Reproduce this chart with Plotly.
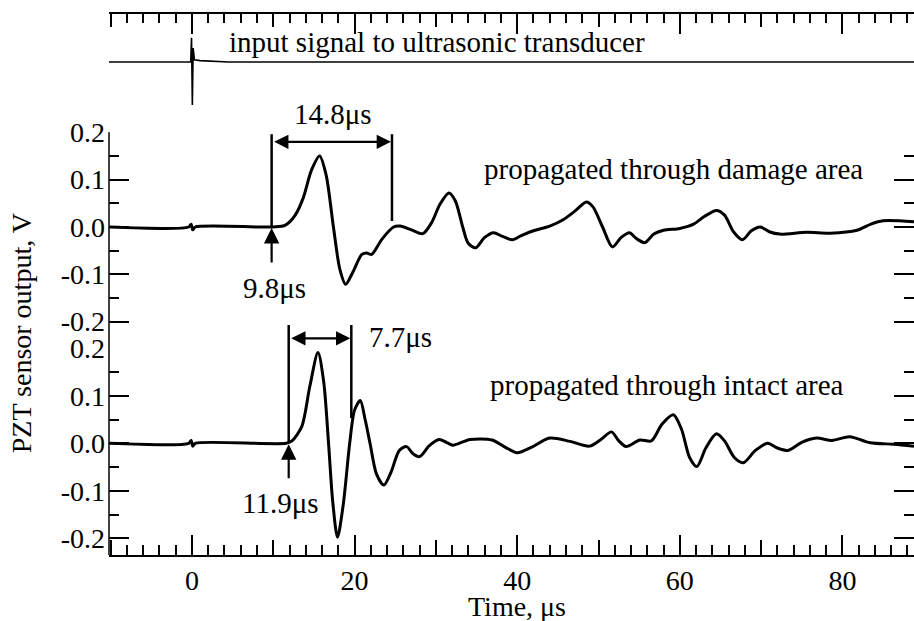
import plotly.graph_objects as go

# ---------------- data ----------------
# input signal to transducer (arbitrary units)
input_t = [-10.2, -0.15, -0.05, 0.05, 0.15, 0.3, 1.0, 2.5, 4.5, 88.8]
input_v = [0.0, 0.0, 0.52, -0.92, 0.3, 0.05, 0.03, 0.015, 0.0, 0.0]

# propagated through damage area (V)
damage_t = [-10.2, -0.4, -0.1, 0.1, 0.4, 10.0, 11.5, 12.7, 13.7, 14.7, 15.7, 16.5, 17.4,
            18.2, 18.9, 19.8, 20.9, 21.5, 22.1, 23.4, 24.8, 25.6, 27.0, 28.4, 29.5, 30.5,
            31.6, 32.4, 33.3, 34.0, 34.9, 36.0, 37.1, 38.2, 39.4, 40.5, 42.0, 44.0, 45.7,
            47.2, 48.5, 49.3, 50.5, 51.7, 52.8, 53.8, 54.7, 55.7, 56.8, 58.0, 60.0, 61.7,
            63.0, 64.5, 65.5, 66.6, 67.7, 68.8, 69.9, 71.0, 72.3, 75.6, 78.5, 81.8, 83.5,
            85.0, 88.8]
damage_v = [0.0, 0.0, 0.006, -0.006, 0.0, 0.0, 0.004, 0.025, 0.062, 0.120, 0.150, 0.110, 0.0,
            -0.090, -0.121, -0.095, -0.058, -0.055, -0.058, -0.025, 0.0, 0.002, -0.006, -0.014,
            0.010, 0.048, 0.072, 0.055, 0.0, -0.035, -0.044, -0.022, -0.012, -0.020, -0.027,
            -0.018, -0.008, 0.002, 0.016, 0.035, 0.053, 0.043, 0.0, -0.042, -0.022, -0.012,
            -0.025, -0.033, -0.015, -0.007, -0.003, 0.006, 0.022, 0.035, 0.025, -0.010, -0.027,
            -0.008, 0.0, -0.010, -0.015, -0.011, -0.013, -0.007, 0.006, 0.013, 0.011]

# propagated through intact area (V)
intact_t = [-10.2, -0.4, -0.1, 0.1, 0.4, 11.6, 12.3, 13.5, 14.5, 15.5, 16.2, 16.8, 17.3, 17.9,
            18.6, 19.4, 20.0, 20.7, 21.3, 21.9, 22.7, 23.6, 24.5, 25.5, 26.4, 27.2, 28.0, 29.2,
            30.4, 31.3, 32.1, 34.2, 36.9, 38.5, 40.0, 41.8, 44.0, 46.5, 48.9, 50.3, 51.6, 52.5,
            53.4, 55.1, 56.5, 57.8, 59.2, 60.2, 61.2, 62.1, 63.2, 64.5, 65.5, 66.7, 67.8, 69.3,
            70.8, 72.0, 73.3, 75.0, 76.8, 78.7, 80.9, 83.4, 86.3, 88.8]
intact_v = [0.0, 0.0, 0.006, -0.006, 0.0, 0.0, 0.005, 0.035, 0.120, 0.191, 0.130, 0.0, -0.120,
            -0.198, -0.130, 0.0, 0.070, 0.090, 0.050, 0.0, -0.065, -0.088, -0.060, -0.015,
            -0.007, -0.022, -0.028, -0.005, 0.008, 0.002, -0.004, 0.008, 0.007, -0.008, -0.020,
            -0.008, 0.011, 0.004, -0.006, 0.008, 0.024, 0.005, -0.007, 0.007, 0.005, 0.040,
            0.060, 0.030, -0.030, -0.049, -0.010, 0.020, 0.005, -0.030, -0.041, -0.015, 0.0,
            -0.010, -0.015, 0.002, 0.011, 0.006, 0.014, 0.001, -0.002, -0.006]

# arrival times and durations (µs)
damage_onset, damage_width = 9.8, 14.8
intact_onset, intact_width = 11.9, 7.7

y_tickvals = [-0.2, -0.1, 0.0, 0.1, 0.2]
y_ticktext = ["-0.2", "-0.1", "0.0", "0.1", "0.2"]
y_minorvals = [-0.15, -0.05, 0.05, 0.15]

x_range = [-10.2, 88.8]

# panel layout (domains / ranges)
dom_y, rng_y = [0.0, 0.3821], [-0.2352, 0.2]
dom_y2, rng_y2 = [0.3821, 0.7813], [-0.2562, 0.2]
dom_y3, rng_y3 = [0.8078, 1.0], [-1.2, 1.03]


def to_paper(v, dom, rng):
    return dom[0] + (v - rng[0]) / (rng[1] - rng[0]) * (dom[1] - dom[0])


FONT = "Liberation Serif, Times New Roman, serif"
FS_TICK = 28
FS_TEXT = 29

fig = go.Figure()
fig.add_trace(go.Scatter(x=input_t, y=input_v, xaxis="x", yaxis="y3", mode="lines",
                         line=dict(color="black", width=1.6), hoverinfo="skip"))
fig.add_trace(go.Scatter(x=damage_t, y=damage_v, xaxis="x", yaxis="y2", mode="lines",
                         line=dict(color="black", width=3, shape="spline", smoothing=0.8),
                         hoverinfo="skip"))
fig.add_trace(go.Scatter(x=intact_t, y=intact_v, xaxis="x", yaxis="y", mode="lines",
                         line=dict(color="black", width=3, shape="spline", smoothing=0.8),
                         hoverinfo="skip"))
# invisible anchors for the auxiliary tick axes
for xa, ya in (("x2", "y3"), ("x3", "y"), ("x4", "y3")):
    fig.add_trace(go.Scatter(x=[x_range[0]], y=[0], xaxis=xa, yaxis=ya, mode="markers",
                             marker=dict(opacity=0), hoverinfo="skip", showlegend=False))

yax_common = dict(showline=False, ticks="inside",
                  ticklen=20, tickwidth=1.5, tickcolor="black", mirror="ticks",
                  tickmode="array", tickvals=y_tickvals, ticktext=y_ticktext,
                  minor=dict(tickmode="array", tickvals=y_minorvals, ticks="inside",
                             ticklen=10, tickwidth=1.5, tickcolor="black"),
                  showgrid=False, zeroline=False, ticklabelstandoff=3,
                  tickfont=dict(family=FONT, size=FS_TICK, color="black"))

fig.update_layout(
    width=914, height=621,
    margin=dict(l=109, r=0, t=14, b=66),
    paper_bgcolor="white", plot_bgcolor="white",
    showlegend=False,
    font=dict(family=FONT, size=FS_TICK, color="black"),
    xaxis=dict(range=x_range, anchor="y", showline=True, linecolor="black", linewidth=1.5,
               ticks="inside", ticklen=20, tickwidth=1.5, tickcolor="black",
               tickmode="linear", tick0=0, dtick=20,
               minor=dict(ticks="inside", ticklen=10, tickwidth=1.5, tickcolor="black",
                          tick0=0, dtick=2),
               showgrid=False, zeroline=False, ticklabelstandoff=0,
               tickfont=dict(family=FONT, size=FS_TICK, color="black")),
    xaxis2=dict(range=x_range, anchor="y3", overlaying="x", side="top", showline=True,
                linecolor="black", linewidth=1.5, ticks="inside", ticklen=20, tickwidth=1.5,
                tickcolor="black", tickmode="linear", tick0=0, dtick=20,
                minor=dict(ticks="inside", ticklen=9, tickwidth=1.5, tickcolor="black",
                           tick0=0, dtick=2),
                showticklabels=False, showgrid=False, zeroline=False),
    xaxis3=dict(range=x_range, anchor="y", overlaying="x", side="bottom", showline=False,
                ticks="inside", ticklen=15, tickwidth=1.5, tickcolor="black",
                tickmode="linear", tick0=0, dtick=10, showticklabels=False,
                showgrid=False, zeroline=False),
    xaxis4=dict(range=x_range, anchor="y3", overlaying="x", side="top", showline=False,
                ticks="inside", ticklen=13, tickwidth=1.5, tickcolor="black",
                tickmode="linear", tick0=0, dtick=10, showticklabels=False,
                showgrid=False, zeroline=False),
    yaxis=dict(domain=dom_y, range=rng_y, anchor="x", **yax_common),
    yaxis2=dict(domain=dom_y2, range=rng_y2, anchor="x", **yax_common),
    yaxis3=dict(domain=dom_y3, range=rng_y3, anchor="x", visible=False),
)

# continuous left axis line spanning both sensor panels
fig.add_shape(type="line", xref="paper", yref="paper", x0=0, x1=0,
              y0=to_paper(rng_y[0], dom_y, rng_y), y1=to_paper(rng_y2[1], dom_y2, rng_y2),
              line=dict(color="black", width=1.5))

line_style = dict(color="black", width=2.5)
# brackets: damage (in y2 data units)
for xv, y0 in ((damage_onset, 0.0), (damage_onset + damage_width, 0.0127)):
    fig.add_shape(type="line", xref="x", yref="paper", x0=xv, x1=xv,
                  y0=to_paper(y0, dom_y2, rng_y2), y1=to_paper(0.196, dom_y2, rng_y2),
                  line=line_style)
# brackets: intact (in y data units)
for xv, y0 in ((intact_onset, 0.0), (intact_onset + intact_width, 0.053)):
    fig.add_shape(type="line", xref="x", yref="paper", x0=xv, x1=xv,
                  y0=to_paper(y0, dom_y, rng_y), y1=to_paper(0.249, dom_y, rng_y),
                  line=line_style)


def dbl_arrow(x0, x1, yp):
    fig.add_annotation(x=x1, y=yp, ax=x0, ay=0, xref="x", yref="paper", axref="x",
                       ayref="pixel", text="", showarrow=True, arrowhead=2,
                       startarrowhead=2, arrowside="end+start", arrowsize=1.3,
                       arrowwidth=2.2, arrowcolor="black", standoff=1, startstandoff=1)


def up_arrow(xv, y_tail, dom, rng):
    fig.add_annotation(x=xv, y=to_paper(0.0, dom, rng), ax=0,
                       ay=(0.0 - y_tail) / (rng[1] - rng[0]) * (dom[1] - dom[0]) * 541,
                       xref="x", yref="paper", axref="pixel", ayref="pixel",
                       text="", showarrow=True, arrowhead=2, arrowsize=1.4,
                       arrowwidth=2.2, arrowcolor="black", standoff=1)


dbl_arrow(damage_onset, damage_onset + damage_width, to_paper(0.18, dom_y2, rng_y2))
dbl_arrow(intact_onset, intact_onset + intact_width, to_paper(0.221, dom_y, rng_y))
up_arrow(damage_onset, -0.078, dom_y2, rng_y2)
up_arrow(intact_onset, -0.077, dom_y, rng_y)


def label(text, x, yp, xref="x", angle=0, size=FS_TEXT):
    fig.add_annotation(x=x, y=yp, xref=xref, yref="paper", text=text, showarrow=False,
                       textangle=angle, xanchor="center", yanchor="middle",
                       font=dict(family=FONT, size=size, color="black"))


label(f"{damage_width}μs", 17.3, to_paper(0.239, dom_y2, rng_y2))
label(f"{damage_onset}μs", 10.1, to_paper(-0.128, dom_y2, rng_y2))
label("propagated through damage area", 59.2, to_paper(0.122, dom_y2, rng_y2))
label(f"{intact_width}μs", 25.7, to_paper(0.224, dom_y, rng_y))
label(f"{intact_onset}μs", 10.9, to_paper(-0.126, dom_y, rng_y))
label("propagated through intact area", 58.4, to_paper(0.123, dom_y, rng_y))
label("input signal to ultrasonic transducer", 30.1, to_paper(0.43, dom_y3, rng_y3))
label("Time, μs", 0.5065, -0.0956, xref="paper", size=FS_TICK)
label("PZT sensor output, V", -0.1093, 0.41, xref="paper", angle=-90, size=FS_TICK)

fig.write_html("out.html")
